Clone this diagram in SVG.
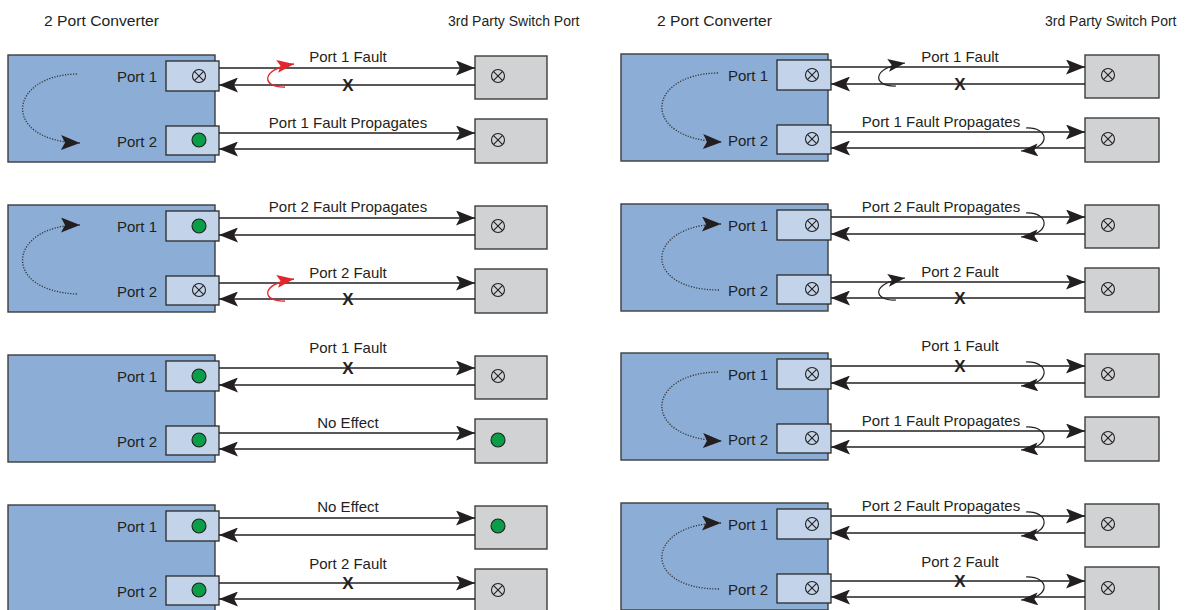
<svg xmlns="http://www.w3.org/2000/svg" xmlns:xlink="http://www.w3.org/1999/xlink" width="1194" height="610" viewBox="0 0 1194 610">
  <style>
    text { font-family: "Liberation Sans", Arial, sans-serif; fill: #231f20; }
    .title { font-size: 14px; }
    .port { font-size: 15px; text-anchor: end; }
    .mid { font-size: 15px; text-anchor: middle; }
    .xm { font-size: 17px; font-weight: bold; text-anchor: middle; }
    .conv { fill: #8caed6; stroke: #3d3d3d; stroke-width: 1.4; }
    .pbox { fill: #c3d4ea; stroke: #2a2a2a; stroke-width: 1.3; }
    .sbox { fill: #d1d2d4; stroke: #3d3d3d; stroke-width: 1.4; }
    .ln { stroke: #231f20; stroke-width: 1.4; fill: none; marker-end: url(#ah); }
    .loop { stroke: #231f20; stroke-width: 1.2; fill: none; marker-end: url(#ahs); }
    .rloop { stroke: #e3262b; stroke-width: 1.3; fill: none; marker-end: url(#ahr); }
    .arc { stroke: #333; stroke-width: 1.3; fill: none; stroke-dasharray: 1.2 1.5; marker-end: url(#ah); }
  </style>
  <defs>
    <marker id="ah" viewBox="0 0 19 15" markerWidth="19" markerHeight="15" refX="19" refY="7.5" orient="auto" markerUnits="userSpaceOnUse">
      <path d="M0,0 L19,7.5 L0,15 L4,7.5 Z" fill="#231f20"/>
    </marker>
    <marker id="ahs" viewBox="0 0 17 13" markerWidth="17" markerHeight="13" refX="17" refY="6.5" orient="auto" markerUnits="userSpaceOnUse">
      <path d="M0,0 L17,6.5 L0,13 L3.5,6.5 Z" fill="#231f20"/>
    </marker>
    <marker id="ahr" viewBox="0 0 17 13" markerWidth="17" markerHeight="13" refX="17" refY="6.5" orient="auto" markerUnits="userSpaceOnUse">
      <path d="M0,0 L17,6.5 L0,13 L3.5,6.5 Z" fill="#e3262b"/>
    </marker>
    <!-- fault indicator: circle with cross -->
    <g id="cx" fill="none" stroke="#231f20" stroke-width="1.1">
      <circle r="6.5"/>
      <line x1="-4.6" y1="-4.6" x2="4.6" y2="4.6"/>
      <line x1="-4.6" y1="4.6" x2="4.6" y2="-4.6"/>
    </g>
    <!-- link-up indicator: green dot -->
    <circle id="ok" r="7" fill="#0a9e48" stroke="#231f20" stroke-width="1.1"/>
  </defs>

  <g id="titles">
    <text class="title" x="44" y="26" textLength="115" lengthAdjust="spacingAndGlyphs">2 Port Converter</text>
    <text class="title" x="448" y="26">3rd Party Switch Port</text>
    <text class="title" x="657" y="26" textLength="115" lengthAdjust="spacingAndGlyphs">2 Port Converter</text>
    <text class="title" x="1045" y="26">3rd Party Switch Port</text>
  </g>

  <!-- ===== Left column ===== -->
  <g id="L1">
    <rect class="conv" x="8" y="55" width="207" height="107"/>
    <rect class="pbox" x="166" y="61" width="53" height="30"/>
    <rect class="pbox" x="166" y="126" width="53" height="29"/>
    <text class="port" x="157" y="82">Port 1</text>
    <text class="port" x="157" y="147">Port 2</text>
    <use xlink:href="#cx" x="199" y="76"/>
    <use xlink:href="#ok" x="199" y="140"/>
    <rect class="sbox" x="475" y="56" width="72" height="43"/>
    <rect class="sbox" x="475" y="119" width="72" height="44"/>
    <use xlink:href="#cx" x="498" y="76"/>
    <use xlink:href="#cx" x="498" y="140"/>
  </g>
  <g id="L2">
    <rect class="conv" x="8" y="205" width="207" height="107"/>
    <rect class="pbox" x="166" y="211" width="53" height="30"/>
    <rect class="pbox" x="166" y="276" width="53" height="29"/>
    <text class="port" x="157" y="232">Port 1</text>
    <text class="port" x="157" y="297">Port 2</text>
    <use xlink:href="#ok" x="199" y="226"/>
    <use xlink:href="#cx" x="199" y="290"/>
    <rect class="sbox" x="475" y="206" width="72" height="43"/>
    <rect class="sbox" x="475" y="269" width="72" height="44"/>
    <use xlink:href="#cx" x="498" y="226"/>
    <use xlink:href="#cx" x="498" y="290"/>
  </g>
  <g id="L3">
    <rect class="conv" x="8" y="355" width="207" height="107"/>
    <rect class="pbox" x="166" y="361" width="53" height="30"/>
    <rect class="pbox" x="166" y="426" width="53" height="29"/>
    <text class="port" x="157" y="382">Port 1</text>
    <text class="port" x="157" y="447">Port 2</text>
    <use xlink:href="#ok" x="199" y="376"/>
    <use xlink:href="#ok" x="199" y="440"/>
    <rect class="sbox" x="475" y="356" width="72" height="43"/>
    <rect class="sbox" x="475" y="419" width="72" height="44"/>
    <use xlink:href="#cx" x="498" y="376"/>
    <use xlink:href="#ok" x="498" y="440"/>
  </g>
  <g id="L4">
    <rect class="conv" x="8" y="505" width="207" height="107"/>
    <rect class="pbox" x="166" y="511" width="53" height="30"/>
    <rect class="pbox" x="166" y="576" width="53" height="29"/>
    <text class="port" x="157" y="532">Port 1</text>
    <text class="port" x="157" y="597">Port 2</text>
    <use xlink:href="#ok" x="199" y="526"/>
    <use xlink:href="#ok" x="199" y="590"/>
    <rect class="sbox" x="475" y="506" width="72" height="43"/>
    <rect class="sbox" x="475" y="569" width="72" height="44"/>
    <use xlink:href="#ok" x="498" y="526"/>
    <use xlink:href="#cx" x="498" y="590"/>
  </g>

  <!-- ===== Right column ===== -->
  <g id="R1">
    <rect class="conv" x="621" y="54" width="207" height="107"/>
    <rect class="pbox" x="777" y="60" width="54" height="30"/>
    <rect class="pbox" x="777" y="125" width="54" height="29"/>
    <text class="port" x="768" y="81">Port 1</text>
    <text class="port" x="768" y="146">Port 2</text>
    <use xlink:href="#cx" x="812" y="75"/>
    <use xlink:href="#cx" x="812" y="139"/>
    <rect class="sbox" x="1085" y="55" width="74" height="43"/>
    <rect class="sbox" x="1085" y="118" width="74" height="44"/>
    <use xlink:href="#cx" x="1108" y="75"/>
    <use xlink:href="#cx" x="1108" y="139"/>
  </g>
  <g id="R2">
    <rect class="conv" x="621" y="204" width="207" height="107"/>
    <rect class="pbox" x="777" y="210" width="54" height="30"/>
    <rect class="pbox" x="777" y="275" width="54" height="29"/>
    <text class="port" x="768" y="231">Port 1</text>
    <text class="port" x="768" y="296">Port 2</text>
    <use xlink:href="#cx" x="812" y="225"/>
    <use xlink:href="#cx" x="812" y="289"/>
    <rect class="sbox" x="1085" y="205" width="74" height="43"/>
    <rect class="sbox" x="1085" y="268" width="74" height="44"/>
    <use xlink:href="#cx" x="1108" y="225"/>
    <use xlink:href="#cx" x="1108" y="289"/>
  </g>
  <g id="R3">
    <rect class="conv" x="621" y="353" width="207" height="107"/>
    <rect class="pbox" x="777" y="359" width="54" height="30"/>
    <rect class="pbox" x="777" y="424" width="54" height="29"/>
    <text class="port" x="768" y="380">Port 1</text>
    <text class="port" x="768" y="445">Port 2</text>
    <use xlink:href="#cx" x="812" y="374"/>
    <use xlink:href="#cx" x="812" y="438"/>
    <rect class="sbox" x="1085" y="354" width="74" height="43"/>
    <rect class="sbox" x="1085" y="417" width="74" height="44"/>
    <use xlink:href="#cx" x="1108" y="374"/>
    <use xlink:href="#cx" x="1108" y="438"/>
  </g>
  <g id="R4">
    <rect class="conv" x="621" y="503" width="207" height="107"/>
    <rect class="pbox" x="777" y="509" width="54" height="30"/>
    <rect class="pbox" x="777" y="574" width="54" height="29"/>
    <text class="port" x="768" y="530">Port 1</text>
    <text class="port" x="768" y="595">Port 2</text>
    <use xlink:href="#cx" x="812" y="524"/>
    <use xlink:href="#cx" x="812" y="588"/>
    <rect class="sbox" x="1085" y="504" width="74" height="43"/>
    <rect class="sbox" x="1085" y="567" width="74" height="44"/>
    <use xlink:href="#cx" x="1108" y="524"/>
    <use xlink:href="#cx" x="1108" y="588"/>
  </g>

  <!-- ===== Links, fault loops and propagation arcs ===== -->
  <g id="connectors">
    <!-- L1 -->
    <path class="ln" d="M219,68 H475"/>
    <path class="ln" d="M475,85 H219"/>
    <path class="ln" d="M219,133 H475"/>
    <path class="ln" d="M475,149 H219"/>
    <path class="rloop" d="M285,87 C262,88 259,69 294,64"/>
    <path class="arc" d="M77,74 C8,75 0,141 80,143"/>
    <!-- L2 -->
    <path class="ln" d="M219,218 H475"/>
    <path class="ln" d="M475,235 H219"/>
    <path class="ln" d="M219,283 H475"/>
    <path class="ln" d="M475,299 H219"/>
    <path class="rloop" d="M285,301 C262,302 259,284 294,279"/>
    <path class="arc" d="M77,294 C0,291 8,225 80,225"/>
    <!-- L3 -->
    <path class="ln" d="M219,368 H475"/>
    <path class="ln" d="M475,385 H219"/>
    <path class="ln" d="M219,433 H475"/>
    <path class="ln" d="M475,449 H219"/>
    <!-- L4 -->
    <path class="ln" d="M219,518 H475"/>
    <path class="ln" d="M475,535 H219"/>
    <path class="ln" d="M219,583 H475"/>
    <path class="ln" d="M475,599 H219"/>

    <!-- R1 -->
    <path class="ln" d="M831,67 H1085"/>
    <path class="ln" d="M1085,84 H831"/>
    <path class="ln" d="M831,132 H1085"/>
    <path class="ln" d="M1085,148 H831"/>
    <path class="loop" d="M896,86 C873,87 870,68 905,63"/>
    <path class="loop" d="M1026,128 C1050,127 1052,149 1021,151"/>
    <path class="arc" d="M718,73 C645,74 640,140 722,142"/>
    <!-- R2 -->
    <path class="ln" d="M831,217 H1085"/>
    <path class="ln" d="M1085,234 H831"/>
    <path class="ln" d="M831,282 H1085"/>
    <path class="ln" d="M1085,298 H831"/>
    <path class="loop" d="M1026,213 C1050,212 1052,235 1021,237"/>
    <path class="loop" d="M896,300 C873,301 870,283 905,278"/>
    <path class="arc" d="M719,290 C640,290 645,224 721,224"/>
    <!-- R3 -->
    <path class="ln" d="M831,366 H1085"/>
    <path class="ln" d="M1085,383 H831"/>
    <path class="ln" d="M831,431 H1085"/>
    <path class="ln" d="M1085,447 H831"/>
    <path class="loop" d="M1026,362 C1050,361 1052,384 1021,386"/>
    <path class="loop" d="M1026,427 C1050,426 1052,448 1021,450"/>
    <path class="arc" d="M718,372 C645,373 640,439 722,441"/>
    <!-- R4 -->
    <path class="ln" d="M831,516 H1085"/>
    <path class="ln" d="M1085,533 H831"/>
    <path class="ln" d="M831,581 H1085"/>
    <path class="ln" d="M1085,597 H831"/>
    <path class="loop" d="M1026,512 C1050,511 1052,534 1021,536"/>
    <path class="loop" d="M1026,577 C1050,576 1052,598 1021,600"/>
    <path class="arc" d="M719,589 C640,589 645,523 721,523"/>
  </g>

  <g id="link-labels">
    <text class="mid" x="348" y="62">Port 1 Fault</text>
    <text class="xm" x="348" y="91">X</text>
    <text class="mid" x="348" y="128">Port 1 Fault Propagates</text>

    <text class="mid" x="348" y="212">Port 2 Fault Propagates</text>
    <text class="mid" x="348" y="278">Port 2 Fault</text>
    <text class="xm" x="348" y="305">X</text>

    <text class="mid" x="348" y="353">Port 1 Fault</text>
    <text class="xm" x="348" y="374">X</text>
    <text class="mid" x="348" y="428">No Effect</text>

    <text class="mid" x="348" y="512">No Effect</text>
    <text class="mid" x="348" y="569">Port 2 Fault</text>
    <text class="xm" x="348" y="589">X</text>

    <text class="mid" x="960" y="62">Port 1 Fault</text>
    <text class="xm" x="960" y="90">X</text>
    <text class="mid" x="941" y="127">Port 1 Fault Propagates</text>

    <text class="mid" x="941" y="212">Port 2 Fault Propagates</text>
    <text class="mid" x="960" y="277">Port 2 Fault</text>
    <text class="xm" x="960" y="304">X</text>

    <text class="mid" x="960" y="351">Port 1 Fault</text>
    <text class="xm" x="960" y="372">X</text>
    <text class="mid" x="941" y="426">Port 1 Fault Propagates</text>

    <text class="mid" x="941" y="511">Port 2 Fault Propagates</text>
    <text class="mid" x="960" y="567">Port 2 Fault</text>
    <text class="xm" x="960" y="587">X</text>
  </g>
</svg>
